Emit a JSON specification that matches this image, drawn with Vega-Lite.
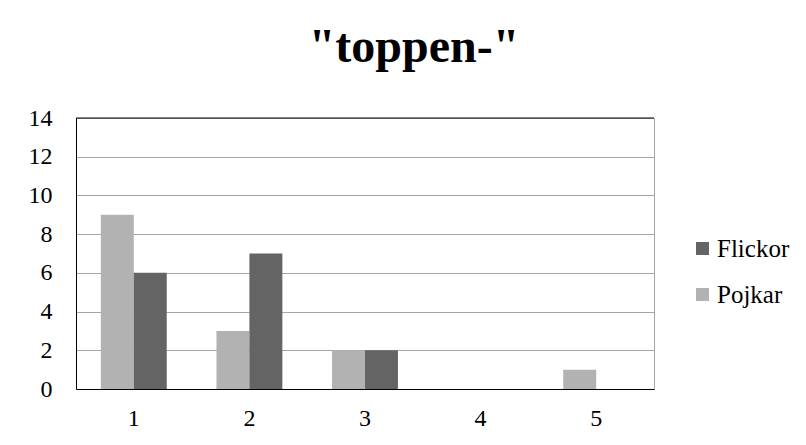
{
  "$schema": "https://vega.github.io/schema/vega-lite/v6.json",
  "width": 578,
  "height": 271,
  "autosize": {"type": "none"},
  "padding": {"left": 76, "top": 118, "right": 152, "bottom": 56},
  "background": "white",
  "title": {
    "text": "\"toppen-\"",
    "font": "Liberation Serif, serif",
    "fontSize": 48,
    "fontWeight": "bold",
    "color": "black",
    "anchor": "middle",
    "frame": "group",
    "baseline": "alphabetic",
    "offset": -4,
    "dx": 49
  },
  "data": {
    "values": [
      {"grupp": "1", "kon": "Pojkar", "antal": 9},
      {"grupp": "1", "kon": "Flickor", "antal": 6},
      {"grupp": "2", "kon": "Pojkar", "antal": 3},
      {"grupp": "2", "kon": "Flickor", "antal": 7},
      {"grupp": "3", "kon": "Pojkar", "antal": 2},
      {"grupp": "3", "kon": "Flickor", "antal": 2},
      {"grupp": "4", "kon": "Pojkar", "antal": 0},
      {"grupp": "4", "kon": "Flickor", "antal": 0},
      {"grupp": "5", "kon": "Pojkar", "antal": 1},
      {"grupp": "5", "kon": "Flickor", "antal": 0}
    ]
  },
  "layer": [
    {
      "mark": {"type": "bar"},
      "encoding": {
        "x": {
          "field": "grupp",
          "type": "nominal",
          "scale": {"paddingInner": 0.43, "paddingOuter": 0.215},
          "axis": {
            "title": null,
            "labelAngle": 0,
            "ticks": false,
            "domainColor": "black",
            "labelFont": "Liberation Serif, serif",
            "labelFontSize": 24,
            "labelColor": "black",
            "labelPadding": 17
          }
        },
        "xOffset": {
          "field": "kon",
          "type": "nominal",
          "sort": ["Pojkar", "Flickor"],
          "scale": {"paddingInner": 0, "paddingOuter": 0}
        },
        "y": {
          "field": "antal",
          "type": "quantitative",
          "scale": {"domain": [0, 14], "nice": false},
          "axis": {
            "title": null,
            "values": [0, 2, 4, 6, 8, 10, 12, 14],
            "labelOverlap": false,
            "ticks": false,
            "domainColor": "black",
            "gridColor": "#a6a6a6",
            "labelFont": "Liberation Serif, serif",
            "labelFontSize": 24,
            "labelColor": "black",
            "labelPadding": 24
          }
        },
        "color": {
          "field": "kon",
          "type": "nominal",
          "scale": {"domain": ["Flickor", "Pojkar"], "range": ["#646464", "#b2b2b2"]},
          "legend": {
            "title": null,
            "orient": "none",
            "legendX": 614,
            "legendY": 118,
            "padding": 0,
            "symbolType": "square",
            "symbolSize": 169,
            "symbolStrokeWidth": 0,
            "labelFont": "Liberation Serif, serif",
            "labelFontSize": 25,
            "labelColor": "black",
            "labelOffset": 2,
            "rowPadding": 20
          }
        }
      }
    },
    {
      "data": {"values": [{"grans": 14}]},
      "mark": {"type": "rule", "color": "black", "strokeWidth": 1},
      "encoding": {
        "y": {
          "field": "grans",
          "type": "quantitative",
          "axis": {
            "title": null,
            "values": [0, 2, 4, 6, 8, 10, 12, 14],
            "labelOverlap": false,
            "ticks": false,
            "domainColor": "black",
            "gridColor": "#a6a6a6",
            "labelFont": "Liberation Serif, serif",
            "labelFontSize": 24,
            "labelColor": "black",
            "labelPadding": 24
          }
        }
      }
    }
  ],
  "config": {
    "font": "Liberation Serif, serif",
    "view": {"stroke": "#a6a6a6"}
  }
}
